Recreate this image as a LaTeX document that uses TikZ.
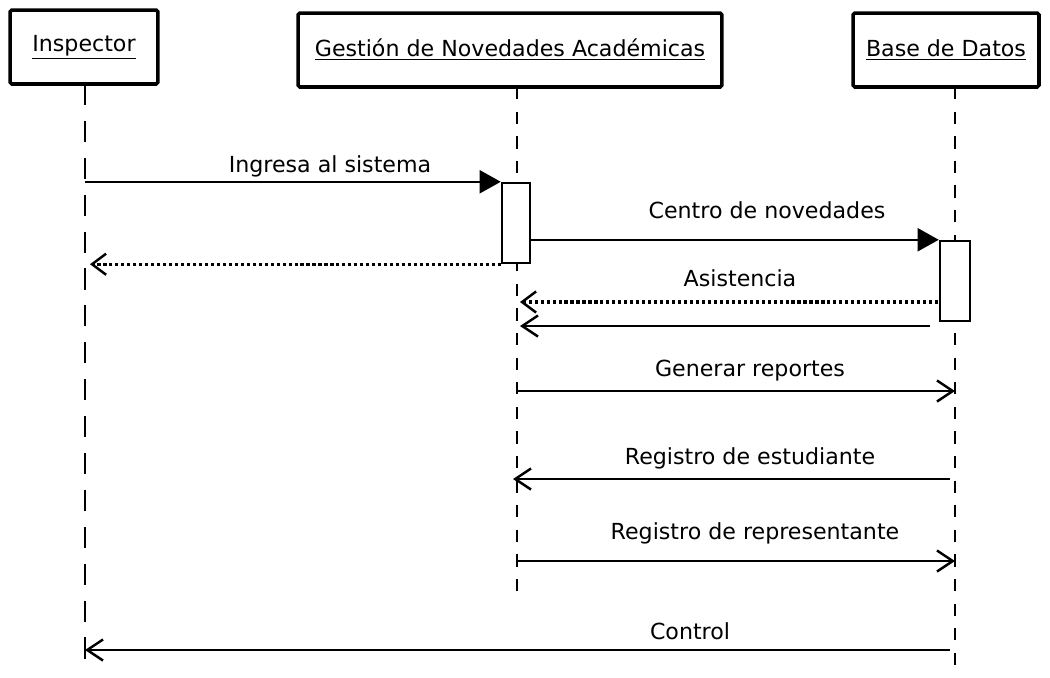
\documentclass[tikz,border=0pt]{standalone}
\usepackage{fontspec}
\setmainfont{DejaVu Sans}
\usetikzlibrary{arrows.meta}

\tikzset{
  obj/.style={draw, line width=2pt, rounded corners=1pt, fill=white,
    font=\fontsize{12.6}{15}\selectfont, minimum height=1.48cm, inner sep=0pt},
  act/.style={draw, line width=1.4pt, fill=white, minimum width=0.56cm,
    minimum height=1.6cm, inner sep=0pt},
  life/.style={line width=0.6pt, dash pattern=on 7pt off 7pt},
  lifebold/.style={line width=1.7pt, dash pattern=on 12pt off 9pt},
  msg/.style={line width=1.4pt},
  call/.style={msg, -{Triangle[length=12pt,width=13pt]}},
  send/.style={msg, -{Straight Barb[length=9pt,width=12pt,line width=1.4pt]}},
  back/.style={msg, line width=1.8pt, dash pattern=on 1.8pt off 1.6pt,
    -{Straight Barb[length=8pt,width=12pt,line width=1.4pt,line cap=butt]}},
  lbl/.style={font=\fontsize{12.6}{15}\selectfont, inner sep=0pt}
}

\begin{document}
\begin{tikzpicture}[x=0.02cm,y=-0.02cm]
\useasboundingbox[fill=white] (0,0) rectangle (1050,677);

% objects
\node[obj, minimum width=2.96cm] (insp) at (84,47) {\underline{Inspector}};
\node[obj, minimum width=8.48cm] (gna) at (510,50) {\underline{Gestión de Novedades Académicas}};
\node[obj, minimum width=3.72cm] (bd) at (946,50) {\underline{Base de Datos}};

% lifelines
\coordinate (inspTop) at (85,84);
\coordinate (inspEnd) at (85,666);
\coordinate (gnaTop) at (517,87);
\coordinate (gnaEnd) at (517,600);
\coordinate (bdTop) at (955,87);
\coordinate (bdEnd) at (955,677);
\draw[lifebold] (inspTop) -- (inspEnd);
\draw[life] (gnaTop) -- (gnaEnd);
\draw[life] (bdTop) -- (bdEnd);

% activations
\node[act] (actG) at (516,223) {};
\node[act, minimum width=0.6cm] (actB) at (955,281) {};

% messages
\draw[call] (inspTop |- actG.north) -- (actG.north west);
\node[lbl] (l1) at (330,166) {Ingresa al sistema};

\coordinate (m2) at (90,263);
\draw[back] (actG.south west) -- (m2 |- actG.south);

\draw[call] (actG.east |- actB.north) -- (actB.north west);
\node[lbl] (l2) at (767,210) {Centro de novedades};

\coordinate (m3a) at (938,302);
\coordinate (m3b) at (520,302);
\draw[back] (m3a) -- (m3b);
\node[lbl] (l3) at (740,278) {Asistencia};

\coordinate (m4a) at (930,326);
\coordinate (m4b) at (520,326);
\draw[send] (m4a) -- (m4b);

\coordinate (m5a) at (517,391);
\coordinate (m5b) at (955,391);
\draw[send] (m5a) -- (m5b);
\node[lbl] (l5) at (750,371) {Generar reportes};

\coordinate (m6a) at (950,479);
\coordinate (m6b) at (513,479);
\draw[send] (m6a) -- (m6b);
\node[lbl] (l6) at (750,458) {Registro de estudiante};

\coordinate (m7a) at (517,561);
\coordinate (m7b) at (955,561);
\draw[send] (m7a) -- (m7b);
\node[lbl] (l7) at (755,533) {Registro de representante};

\coordinate (m8a) at (950,650);
\coordinate (m8b) at (85,650);
\draw[send] (m8a) -- (m8b);
\node[lbl] (l8) at (690,631) {Control};
\end{tikzpicture}
\end{document}
